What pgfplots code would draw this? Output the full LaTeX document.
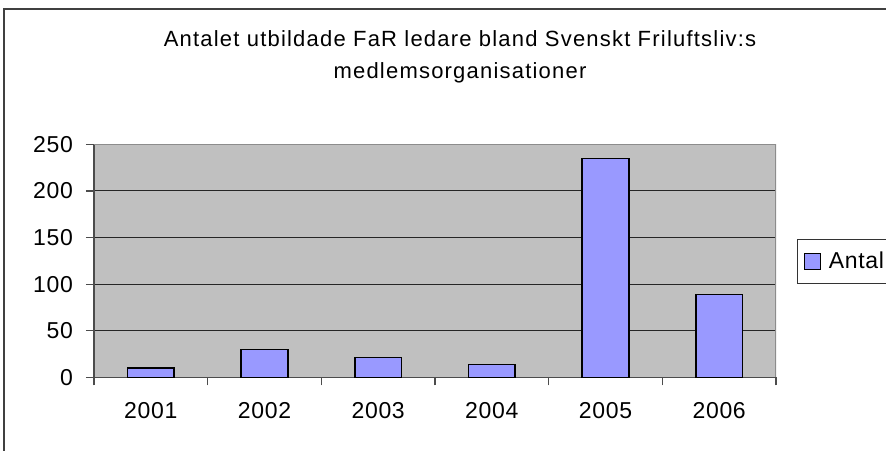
\documentclass[border=0pt]{standalone}
\usepackage{pgfplots}
\pgfplotsset{compat=1.18}
\usepackage{fontspec}
\setmainfont{Liberation Sans}
\newfontfamily\tickfont{Liberation Sans}[LetterSpace=3]
\newfontfamily\titlefont{Liberation Sans}[LetterSpace=5.5]
\definecolor{barblue}{HTML}{9999FF}
\definecolor{plotgray}{HTML}{C0C0C0}
\begin{document}
\begin{tikzpicture}
\clip (0,0) rectangle (443pt,225pt);
\draw[black!75, line width=0.75pt] (2pt,-5pt) -- (2pt,220.5pt) -- (460pt,220.5pt);
\node[anchor=base, inner sep=0pt, font=\titlefont\fontsize{11pt}{12pt}\selectfont] at (230pt,201.5pt) {Antalet utbildade FaR ledare bland Svenskt Friluftsliv:s};
\node[anchor=base, inner sep=0pt, font=\titlefont\fontsize{11pt}{12pt}\selectfont] at (230pt,185.5pt) {medlemsorganisationer};
\begin{axis}[
  at={(47pt,36.35pt)}, anchor=south west,
  scale only axis, width=341pt, height=116.5pt,
  ymin=0, ymax=250, ytick={0,50,...,250},
  xmin=-0.5, xmax=5.5,
  xtick={0,...,5}, xticklabels={2001,2002,2003,2004,2005,2006},
  minor xtick={-0.5,0.5,...,5.5},
  major x tick style={draw=none},
  tick align=outside,
  major tick length=4pt, minor tick length=4pt,
  tick style={black!70, line width=0.6pt},
  axis x line*=bottom, axis y line*=left,
  axis line style={black!70, line width=0.75pt},
  axis background/.style={fill=plotgray},
  ymajorgrids, grid style={black!85, line width=0.5pt},
  /pgf/number format/assume math mode=true,
  ticklabel style={font=\tickfont\fontsize{11.5pt}{12pt}\selectfont},
  yticklabel style={xshift=-3pt},
  xticklabel style={anchor=north, yshift=-5pt},
  legend style={at={(axis description cs:1.0308,0.592)}, anchor=north west,
    draw=black!80, line width=0.5pt, inner xsep=3pt, inner ysep=4pt,
    font=\tickfont\fontsize{11.5pt}{12pt}\selectfont, legend cell align=left},
  legend image code/.code={\draw[fill=barblue, draw=black, line width=0.6pt] (0pt,-4pt) rectangle (8pt,4pt); \path (10pt,0pt);},
]
\addplot[ybar, bar width=0.41, fill=barblue, draw=black, line width=0.75pt]
  coordinates {(0,10) (1,30) (2,21) (3,14) (4,235) (5,89)};
\addlegendentry{Antal}
\draw[black!45, line width=0.75pt] (rel axis cs:0,1) -- (rel axis cs:1,1) -- (rel axis cs:1,0);
\end{axis}
\end{tikzpicture}
\end{document}
